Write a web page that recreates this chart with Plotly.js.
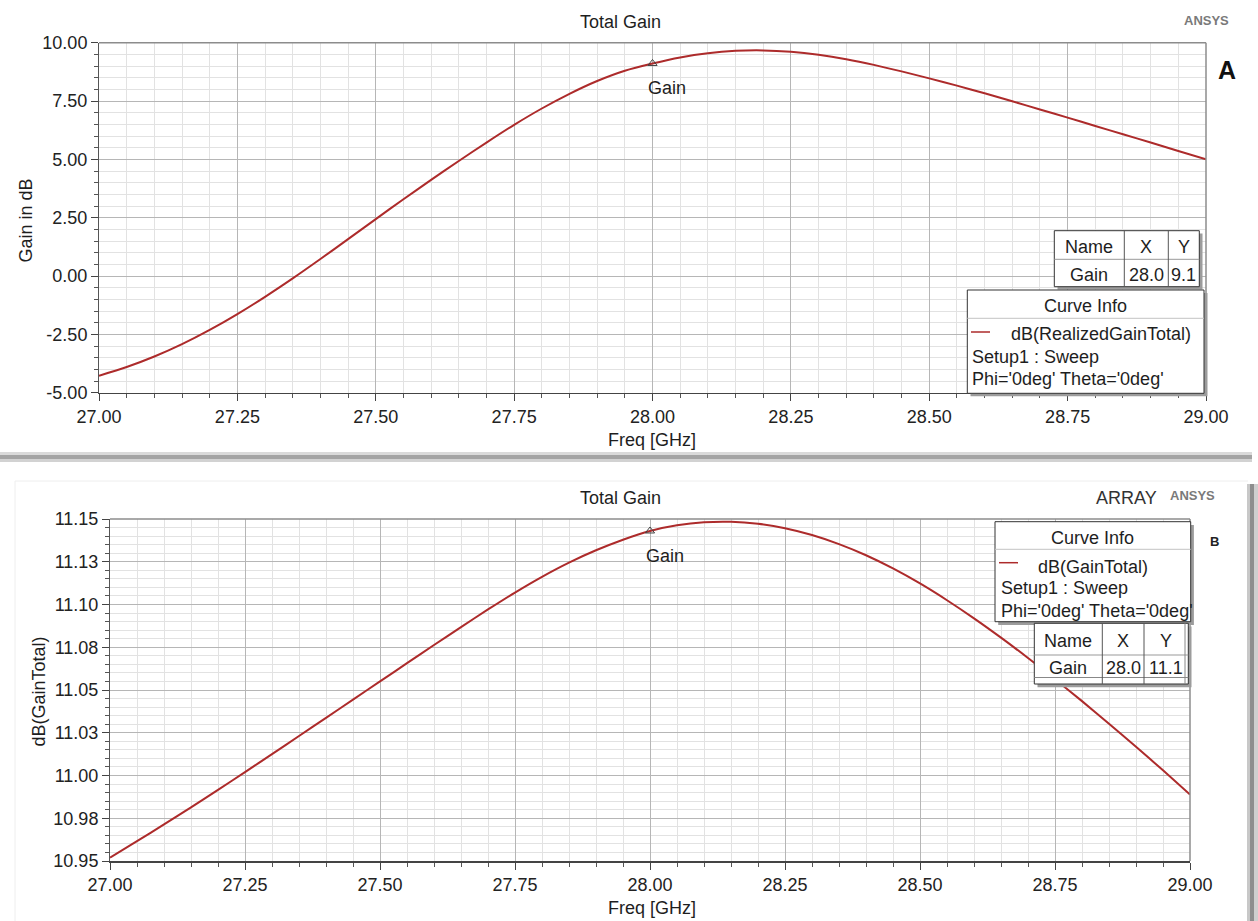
<!DOCTYPE html>
<html>
<head>
<meta charset="utf-8">
<script src="https://cdn.plot.ly/plotly-3.0.1.min.js"></script>
<style>
  html, body { margin: 0; padding: 0; background: #ffffff; }
  #chart { width: 1258px; height: 921px; }
</style>
</head>
<body>
<div id="chart"></div>
<script>
// Frequency sweep (GHz)
const freq = [
  27.00, 27.05, 27.10, 27.15, 27.20, 27.25, 27.30, 27.35, 27.40, 27.45,
  27.50, 27.55, 27.60, 27.65, 27.70, 27.75, 27.80, 27.85, 27.90, 27.95,
  28.00, 28.05, 28.10, 28.15, 28.20, 28.25, 28.30, 28.35, 28.40, 28.45,
  28.50, 28.55, 28.60, 28.65, 28.70, 28.75, 28.80, 28.85, 28.90, 28.95,
  29.00
];

// A: dB(RealizedGainTotal), single element
const realizedGainTotal = [
  -4.27, -3.90, -3.45, -2.92, -2.31, -1.63, -0.89, -0.10, 0.73, 1.58,
   2.44,  3.29,  4.12,  4.93,  5.72,  6.48,  7.18,  7.81, 8.36, 8.80,
   9.11,  9.37,  9.55,  9.65,  9.67,  9.61,  9.48,  9.29, 9.05, 8.77,
   8.47,  8.16,  7.83,  7.49,  7.14,  6.79,  6.43,  6.08, 5.72, 5.36,
   5.00
];

// B: dB(GainTotal), array
const gainTotal = [
  10.9520, 10.9616, 10.9714, 10.9814, 10.9916, 11.0020, 11.0125, 11.0231, 11.0337, 11.0444,
  11.0550, 11.0657, 11.0763, 11.0868, 11.0971, 11.1070, 11.1162, 11.1245, 11.1317, 11.1379,
  11.1430, 11.1463, 11.1481, 11.1484, 11.1472, 11.1446, 11.1406, 11.1353, 11.1288, 11.1211,
  11.1123, 11.1025, 11.0919, 11.0806, 11.0687, 11.0563, 11.0435, 11.0303, 11.0168, 11.0030,
  10.9889
];

// Marker frequency
const markerFreq = 28.00;

// Tick values and labels
const freqTicks = [27.00, 27.25, 27.50, 27.75, 28.00, 28.25, 28.50, 28.75, 29.00];
const freqTickText = ['27.00', '27.25', '27.50', '27.75', '28.00', '28.25', '28.50', '28.75', '29.00'];
const gainTicksA = [-5.0, -2.5, 0.0, 2.5, 5.0, 7.5, 10.0];
const gainTickTextA = ['-5.00', '-2.50', '0.00', '2.50', '5.00', '7.50', '10.00'];
const gainTicksB = [10.95, 10.975, 11.00, 11.025, 11.05, 11.075, 11.10, 11.125, 11.15];
const gainTickTextB = ['10.95', '10.98', '11.00', '11.03', '11.05', '11.08', '11.10', '11.13', '11.15'];

// ---------------------------------------------------------------
const W = 1258, H = 921;
const px = x => x / W;
const py = y => 1 - y / H;
const FONT = 'Liberation Sans, Arial, Helvetica, sans-serif';
const TXT = '#1e1e1e';
const CURVE = '#ad2b2b';

const iMark = freq.indexOf(markerFreq);
const markA = realizedGainTotal[iMark];
const markB = gainTotal[iMark];

function axisBase(extra) {
  return Object.assign({
    showline: true, linecolor: '#444', linewidth: 1.5, mirror: false,
    ticks: 'outside', ticklen: 7, tickwidth: 1, tickcolor: '#444',
    showgrid: true, gridcolor: '#b6b6b6', gridwidth: 1, zeroline: false,
    tickfont: { family: FONT, size: 18, color: '#222' },
    tickmode: 'array', fixedrange: true
  }, extra);
}

function rect(x0, y0, x1, y1, opts) {
  return Object.assign({
    type: 'rect', xref: 'paper', yref: 'paper', layer: 'above',
    x0: px(x0), x1: px(x1), y0: py(y1), y1: py(y0)
  }, opts);
}
function seg(x0, y0, x1, y1, color, width) {
  return {
    type: 'line', xref: 'paper', yref: 'paper', layer: 'above',
    x0: px(x0), x1: px(x1), y0: py(y0), y1: py(y1),
    line: { color: color, width: width || 1 }
  };
}
function label(x, y, text, opts) {
  return Object.assign({
    xref: 'paper', yref: 'paper', x: px(x), y: py(y), text: text,
    showarrow: false, xanchor: 'center', yanchor: 'middle',
    font: { family: FONT, size: 18, color: TXT }
  }, opts || {});
}

// Plot frames (px)
const A = { l: 99, r: 1206, t: 42.7, b: 392.7 };
const B = { l: 110, r: 1190, t: 519, b: 861 };

const traces = [
  {
    x: freq, y: realizedGainTotal, xaxis: 'x', yaxis: 'y',
    type: 'scatter', mode: 'lines', showlegend: false, hoverinfo: 'skip',
    line: { color: CURVE, width: 2, shape: 'spline', smoothing: 0.8 }
  },
  {
    x: [markerFreq], y: [markA], xaxis: 'x', yaxis: 'y',
    type: 'scatter', mode: 'markers', showlegend: false, hoverinfo: 'skip',
    marker: { symbol: 'triangle-up-open', size: 8, color: '#444', line: { width: 1, color: '#444' } }
  },
  {
    x: freq, y: gainTotal, xaxis: 'x2', yaxis: 'y2',
    type: 'scatter', mode: 'lines', showlegend: false, hoverinfo: 'skip',
    line: { color: CURVE, width: 2, shape: 'spline', smoothing: 0.8 }
  },
  {
    x: [markerFreq], y: [markB], xaxis: 'x2', yaxis: 'y2',
    type: 'scatter', mode: 'markers', showlegend: false, hoverinfo: 'skip',
    marker: { symbol: 'triangle-up-open', size: 8, color: '#444', line: { width: 1, color: '#444' } }
  }
];

const minorX = { tickmode: 'linear', tick0: 27, dtick: 0.05, showgrid: true, gridcolor: '#e2e2e2', gridwidth: 1, ticks: 'outside', ticklen: 4, tickcolor: '#555' };

const layout = {
  width: W, height: H,
  margin: { l: 0, r: 0, t: 0, b: 0, pad: 0 },
  paper_bgcolor: '#ffffff', plot_bgcolor: '#ffffff',
  showlegend: false,
  xaxis: axisBase({
    domain: [px(A.l), px(A.r)], anchor: 'y', range: [27, 29],
    tickvals: freqTicks, ticktext: freqTickText, minor: minorX
  }),
  yaxis: axisBase({
    domain: [py(A.b), py(A.t)], anchor: 'x', range: [-5, 10],
    tickvals: gainTicksA, ticktext: gainTickTextA, linecolor: '#555', linewidth: 1,
    minor: { tickmode: 'linear', tick0: -5, dtick: 0.5, showgrid: true, gridcolor: '#e2e2e2', gridwidth: 1, ticks: 'outside', ticklen: 4, tickcolor: '#555' }
  }),
  xaxis2: axisBase({
    domain: [px(B.l), px(B.r)], anchor: 'y2', range: [27, 29],
    tickvals: freqTicks, ticktext: freqTickText, minor: minorX
  }),
  yaxis2: axisBase({
    domain: [py(B.b), py(B.t)], anchor: 'x2', range: [10.95, 11.15],
    tickvals: gainTicksB, ticktext: gainTickTextB, linecolor: '#555', linewidth: 1,
    minor: { tickmode: 'linear', tick0: 10.95, dtick: 0.005, showgrid: true, gridcolor: '#e2e2e2', gridwidth: 1, ticks: 'outside', ticklen: 4, tickcolor: '#555' }
  }),
  shapes: [
    // top/right plot borders
    seg(A.l, A.t, A.r, A.t, '#8c8c8c', 1.5),
    seg(A.r, A.t, A.r, A.b, '#8c8c8c', 1.5),
    seg(B.l, B.t, B.r, B.t, '#8c8c8c', 1.5),
    seg(B.r, B.t, B.r, B.b, '#8c8c8c', 1.5),

    // panel A lower edge shadow
    rect(0, 452, 1252, 455, { fillcolor: '#dadada', line: { width: 0 } }),
    rect(0, 455, 1252, 459, { fillcolor: '#a4a4a4', line: { width: 0 } }),
    rect(0, 459, 1252, 462, { fillcolor: '#d2d2d2', line: { width: 0 } }),
    // panel B frame and right shadow
    seg(15, 481, 1248, 481, '#eeeeee', 1),
    seg(15, 481, 15, 921, '#eeeeee', 1),
    rect(1247, 484, 1250, 921, { fillcolor: '#c8c8c8', line: { width: 0 } }),
    rect(1250, 484, 1254, 921, { fillcolor: '#8e8e8e', line: { width: 0 } }),
    rect(1254, 484, 1258, 921, { fillcolor: '#cfcfcf', line: { width: 0 } }),

    // A: marker table
    rect(1057.5, 233.5, 1202.5, 289.5, { fillcolor: '#9c9c9c', line: { width: 0 } }),
    rect(1054.3, 230.7, 1199.3, 286.7, { fillcolor: '#ffffff', line: { color: '#333', width: 1 } }),
    seg(1054.3, 259.3, 1199.3, 259.3, '#999', 1),
    seg(1124.3, 230.7, 1124.3, 286.7, '#555', 1),
    seg(1168.3, 230.7, 1168.3, 286.7, '#555', 1),
    // A: curve info box
    rect(970.5, 293, 1207.5, 396.3, { fillcolor: '#9c9c9c', line: { width: 0 } }),
    rect(967.3, 290, 1204, 393.3, { fillcolor: '#ffffff', line: { color: '#333', width: 1 } }),
    seg(967.3, 318.3, 1204, 318.3, '#c4c4c4', 1),
    seg(971, 332, 990, 332, CURVE, 1.5),

    // B: curve info box
    rect(998.2, 524.9, 1193.9, 624.9, { fillcolor: '#9c9c9c', line: { width: 0 } }),
    rect(995, 521.7, 1190.7, 621.7, { fillcolor: '#ffffff', line: { color: '#333', width: 1 } }),
    seg(995, 549.3, 1190.7, 549.3, '#c4c4c4', 1),
    seg(999, 562.7, 1018, 562.7, CURVE, 1.5),
    // B: marker table
    rect(1037.5, 626.5, 1191.5, 687.2, { fillcolor: '#9c9c9c', line: { width: 0 } }),
    rect(1034.3, 623.3, 1188.3, 684, { fillcolor: '#ffffff', line: { color: '#333', width: 1 } }),
    seg(1034.3, 655, 1188.3, 655, '#999', 1),
    seg(1034.3, 677.5, 1188.3, 677.5, '#888', 1),
    seg(1102.3, 623.3, 1102.3, 684, '#555', 1),
    seg(1144, 623.3, 1144, 684, '#555', 1),
    seg(1185, 623.3, 1185, 684, '#888', 1)
  ],
  annotations: [
    // panel A texts
    label(620, 22, 'Total Gain'),
    label(1206, 20, 'ANSYS', { font: { family: FONT, size: 13, color: '#7a7a7a', weight: 'bold' } }),
    label(1227, 70, 'A', { font: { family: FONT, size: 25, color: '#111', weight: 'bold' } }),
    label(25.5, 221, 'Gain in dB', { textangle: -90 }),
    label(652, 440, 'Freq [GHz]'),
    { xref: 'x', yref: 'y', x: markerFreq, y: markA, text: 'Gain', showarrow: false,
      xanchor: 'left', yanchor: 'middle', xshift: -7, yshift: -25,
      font: { family: FONT, size: 18, color: TXT } },
    // A table text
    label(1089.3, 246.5, 'Name'),
    label(1146.3, 246.5, 'X'),
    label(1183.8, 246.5, 'Y'),
    label(1089.3, 274.5, 'Gain'),
    label(1146.3, 274.5, markerFreq.toFixed(1)),
    label(1183.8, 274.5, markA.toFixed(1)),
    // A curve info text
    label(1085.7, 306, 'Curve Info'),
    label(1009, 334.5, 'dB(RealizedGainTotal)', { xanchor: 'left' }),
    label(969.5, 357, 'Setup1 : Sweep', { xanchor: 'left' }),
    label(969.5, 379.5, "Phi='0deg' Theta='0deg'", { xanchor: 'left' }),

    // panel B texts
    label(620, 498, 'Total Gain'),
    label(1126, 498, 'ARRAY', { font: { family: FONT, size: 18, color: '#333' } }),
    label(1192, 495, 'ANSYS', { font: { family: FONT, size: 13, color: '#7a7a7a', weight: 'bold' } }),
    label(1214, 541, 'B', { font: { family: FONT, size: 13, color: '#222', weight: 'bold' } }),
    label(38.5, 692, 'dB(GainTotal)', { textangle: -90 }),
    label(652, 908, 'Freq [GHz]'),
    { xref: 'x2', yref: 'y2', x: markerFreq, y: markB, text: 'Gain', showarrow: false,
      xanchor: 'left', yanchor: 'middle', xshift: -6, yshift: -25,
      font: { family: FONT, size: 18, color: TXT } },
    // B curve info text
    label(1092.7, 537.5, 'Curve Info'),
    label(1092.5, 566.5, 'dB(GainTotal)'),
    label(998.5, 588, 'Setup1 : Sweep', { xanchor: 'left' }),
    label(998.5, 610.5, "Phi='0deg' Theta='0deg'", { xanchor: 'left' }),
    // B table text
    label(1068.3, 640.5, 'Name'),
    label(1123.3, 640.5, 'X'),
    label(1165.5, 640.5, 'Y'),
    label(1068.3, 667.5, 'Gain'),
    label(1123.3, 667.5, markerFreq.toFixed(1)),
    label(1165.5, 667.5, markB.toFixed(1))
  ]
};

Plotly.newPlot('chart', traces, layout, { staticPlot: true, displayModeBar: false });
</script>
</body>
</html>
